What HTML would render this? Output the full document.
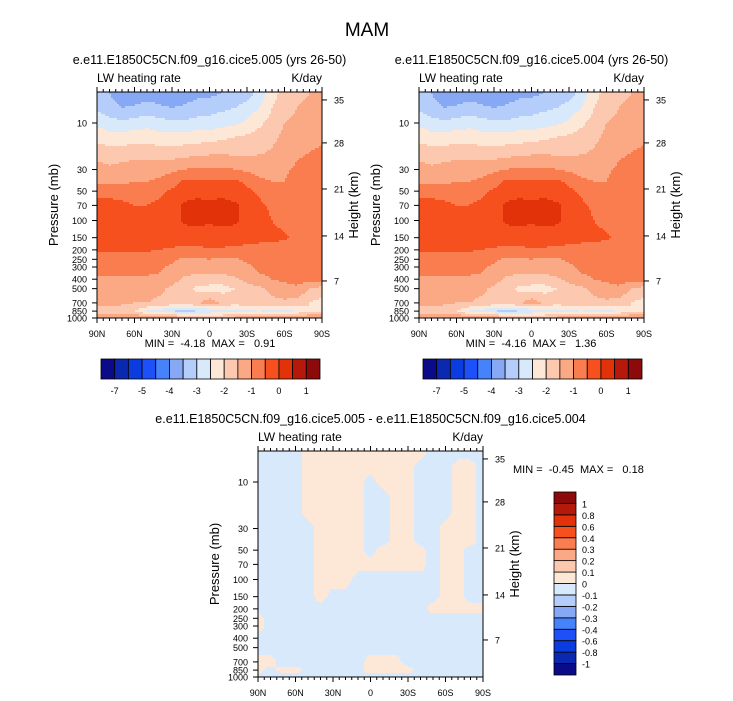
<!DOCTYPE html>
<html><head><meta charset="utf-8">
<style>
body{margin:0;background:#fff;}
svg{display:block;font-family:"Liberation Sans",Arial,sans-serif;}
text{white-space:pre;}
</style></head>
<body>
<svg id="chart" width="733" height="701" viewBox="0 0 733 701">
<rect width="733" height="701" fill="#fff"/>
<text x="367" y="36" text-anchor="middle" font-size="19">MAM</text>
</svg>
<script>
// ---- data ----
const lats = [90,80,70,60,50,40,30,20,10,0,-10,-20,-30,-40,-50,-60,-70,-80,-90];
const levels = [5,7,10,14,20,30,40,50,70,100,150,200,250,300,400,500,700,850,1000];
const latTickLabels = ["90N","60N","30N","0","30S","60S","90S"];
const latTicks = [90,60,30,0,-30,-60,-90];
const pTicks = [10,30,50,70,100,150,200,250,300,400,500,700,850,1000];
const hTicks = [35,28,21,14,7];
const hTickP = [5.8,16,47.5,144,417];
const topContours = [-7,-6,-5,-4.5,-4,-3.5,-3,-2.5,-2,-1.5,-1,-0.5,0,0.5,1];
const topLabels = ["-7","","-5","","-4","","-3","","-2","","-1","","0","","1"];
const diffContours = [-1,-0.8,-0.6,-0.4,-0.3,-0.2,-0.1,0,0.1,0.2,0.3,0.4,0.6,0.8,1];
const diffLabels = ["-1","-0.8","-0.6","-0.4","-0.3","-0.2","-0.1","0","0.1","0.2","0.3","0.4","0.6","0.8","1"];
const colors = ["#0b0b8a","#0a28b0","#0a3ce0","#1e50fa","#4682fa","#87a8f5","#b4cdfa","#d7e9fb","#fde8d7","#fcc9b0","#fba884","#fa7d50","#f5501e","#e1320a","#b4190a","#8c0a0a"];

const valsA = [
[-3.2,-3.5,-3.8,-3.9,-3.7,-3.8,-3.9,-3.8,-3.6,-3.6,-3.5,-3.4,-3.2,-2.8,-2.2,-1.8,-1.6,-1.5,-1.5],
[-3.1,-3.3,-3.5,-3.4,-3.3,-3.4,-3.5,-3.4,-3.3,-3.2,-3.1,-3,-2.8,-2.5,-2,-1.7,-1.5,-1.4,-1.4],
[-2.6,-2.8,-2.9,-2.8,-2.7,-2.8,-2.9,-2.9,-2.8,-2.8,-2.7,-2.6,-2.4,-2.1,-1.8,-1.5,-1.4,-1.3,-1.3],
[-2.2,-2.3,-2.3,-2.2,-2.2,-2.3,-2.3,-2.3,-2.2,-2.2,-2.1,-2.0,-1.9,-1.8,-1.6,-1.4,-1.2,-1.2,-1.1],
[-1.7,-1.8,-1.8,-1.7,-1.7,-1.8,-1.8,-1.7,-1.7,-1.6,-1.6,-1.6,-1.6,-1.55,-1.45,-1.3,-1.1,-1.0,-0.9],
[-1.3,-1.4,-1.3,-1.2,-1.2,-1.2,-1.1,-1.0,-0.9,-0.9,-0.9,-1.0,-1.1,-1.2,-1.2,-1.1,-0.9,-0.8,-0.8],
[-1.1,-1.1,-1.1,-1.0,-1.0,-0.9,-0.7,-0.4,-0.4,-0.4,-0.4,-0.4,-0.6,-0.9,-1.0,-1.0,-0.8,-0.7,-0.7],
[-0.6,-0.6,-0.7,-0.7,-0.7,-0.6,-0.4,-0.3,-0.2,-0.2,-0.2,-0.3,-0.4,-0.6,-0.8,-0.8,-0.7,-0.6,-0.6],
[-0.4,-0.4,-0.4,-0.5,-0.5,-0.4,-0.2,0.1,0.2,0.1,0.2,0.1,-0.2,-0.4,-0.6,-0.7,-0.6,-0.6,-0.6],
[-0.3,-0.3,-0.35,-0.4,-0.4,-0.3,-0.2,0.1,0.15,0.05,0.15,0.1,-0.2,-0.3,-0.5,-0.6,-0.6,-0.6,-0.6],
[-0.3,-0.3,-0.3,-0.3,-0.3,-0.3,-0.3,-0.3,-0.3,-0.2,-0.3,-0.3,-0.3,-0.35,-0.4,-0.45,-0.6,-0.6,-0.6],
[-0.4,-0.4,-0.4,-0.4,-0.45,-0.5,-0.55,-0.6,-0.6,-0.55,-0.55,-0.6,-0.65,-0.7,-0.7,-0.7,-0.7,-0.7,-0.7],
[-0.7,-0.7,-0.7,-0.7,-0.75,-0.8,-0.9,-1.1,-1.1,-1.0,-1.1,-1.1,-0.9,-0.8,-0.8,-0.7,-0.7,-0.7,-0.7],
[-0.8,-0.8,-0.8,-0.8,-0.8,-0.9,-1.1,-1.2,-1.2,-1.2,-1.2,-1.2,-1.1,-0.9,-0.9,-0.8,-0.8,-0.8,-0.8],
[-1.1,-1.1,-1.1,-1.1,-1.1,-1.1,-1.3,-1.6,-1.7,-1.7,-1.7,-1.6,-1.3,-1.1,-1.0,-0.9,-0.8,-0.8,-0.8],
[-1.2,-1.2,-1.3,-1.3,-1.3,-1.4,-1.6,-1.8,-2.1,-2.2,-2.2,-2.0,-1.8,-1.6,-1.4,-1.2,-1.1,-1.5,-1.7],
[-1.4,-1.4,-1.4,-1.5,-1.5,-1.6,-1.7,-1.8,-1.6,-1.2,-1.6,-1.8,-1.7,-1.6,-1.6,-1.6,-1.7,-2.0,-2.2],
[-1.7,-1.7,-1.8,-2.0,-2.5,-2.7,-3.0,-3.1,-3.0,-2.9,-2.8,-2.7,-2.6,-2.5,-2.6,-2.7,-2.4,-2.0,-2.0],
[-1.1,-1.0,-1.0,-1.0,-1.0,-1.0,-1.1,-1.4,-1.5,-1.5,-1.4,-1.3,-1.2,-1.2,-1.2,-1.3,-1.1,-1.0,-1.0]];

const valsB = [
[-3.2,-3.5,-3.8,-3.9,-3.7,-3.8,-3.9,-3.8,-3.6,-3.6,-3.5,-3.4,-3.2,-2.8,-2.2,-1.8,-1.6,-1.5,-1.5],
[-3.1,-3.3,-3.5,-3.4,-3.3,-3.4,-3.5,-3.4,-3.3,-3.2,-3.1,-3,-2.8,-2.5,-2,-1.7,-1.5,-1.4,-1.4],
[-2.6,-2.8,-2.9,-2.8,-2.7,-2.8,-2.9,-2.9,-2.8,-2.8,-2.7,-2.6,-2.4,-2.1,-1.8,-1.5,-1.4,-1.3,-1.3],
[-2.2,-2.3,-2.3,-2.2,-2.2,-2.3,-2.3,-2.3,-2.2,-2.2,-2.1,-2.0,-1.9,-1.8,-1.6,-1.4,-1.2,-1.2,-1.1],
[-1.7,-1.8,-1.8,-1.7,-1.7,-1.8,-1.8,-1.7,-1.7,-1.6,-1.6,-1.6,-1.6,-1.55,-1.45,-1.3,-1.1,-1.0,-0.9],
[-1.3,-1.4,-1.3,-1.2,-1.2,-1.2,-1.1,-1.0,-0.9,-0.9,-0.9,-1.0,-1.1,-1.2,-1.2,-1.1,-0.9,-0.8,-0.8],
[-1.1,-1.1,-1.1,-1.0,-1.0,-0.9,-0.7,-0.4,-0.4,-0.4,-0.4,-0.4,-0.6,-0.9,-1.0,-1.0,-0.8,-0.7,-0.7],
[-0.6,-0.6,-0.7,-0.7,-0.7,-0.6,-0.4,-0.3,-0.2,-0.2,-0.2,-0.3,-0.4,-0.6,-0.8,-0.8,-0.7,-0.6,-0.6],
[-0.4,-0.4,-0.4,-0.5,-0.5,-0.4,-0.2,0.1,0.2,0.1,0.2,0.1,-0.2,-0.4,-0.6,-0.7,-0.6,-0.6,-0.6],
[-0.3,-0.3,-0.35,-0.4,-0.4,-0.3,-0.2,0.1,0.15,0.05,0.15,0.1,-0.2,-0.3,-0.5,-0.6,-0.6,-0.6,-0.6],
[-0.3,-0.3,-0.3,-0.3,-0.3,-0.3,-0.3,-0.3,-0.3,-0.2,-0.3,-0.3,-0.3,-0.35,-0.4,-0.45,-0.6,-0.6,-0.6],
[-0.4,-0.4,-0.4,-0.4,-0.45,-0.5,-0.55,-0.6,-0.6,-0.55,-0.55,-0.6,-0.65,-0.7,-0.7,-0.7,-0.7,-0.7,-0.7],
[-0.7,-0.7,-0.7,-0.7,-0.75,-0.8,-0.9,-1.1,-1.1,-1.0,-1.1,-1.1,-0.9,-0.8,-0.8,-0.7,-0.7,-0.7,-0.7],
[-0.8,-0.8,-0.8,-0.8,-0.8,-0.9,-1.1,-1.2,-1.2,-1.2,-1.2,-1.2,-1.1,-0.9,-0.9,-0.8,-0.8,-0.8,-0.8],
[-1.1,-1.1,-1.1,-1.1,-1.1,-1.1,-1.3,-1.6,-1.7,-1.7,-1.7,-1.6,-1.3,-1.1,-1.0,-0.9,-0.8,-0.8,-0.8],
[-1.2,-1.2,-1.3,-1.3,-1.3,-1.4,-1.6,-1.8,-2.1,-2.2,-2.2,-2.0,-1.8,-1.6,-1.4,-1.2,-1.1,-1.5,-1.7],
[-1.4,-1.4,-1.4,-1.5,-1.5,-1.6,-1.7,-1.8,-1.6,-1.2,-1.6,-1.8,-1.7,-1.6,-1.6,-1.6,-1.7,-2.0,-2.2],
[-1.7,-1.7,-1.8,-2.0,-2.5,-2.7,-3.0,-3.1,-3.0,-2.9,-2.8,-2.7,-2.6,-2.5,-2.6,-2.7,-2.4,-2.0,-2.0],
[-1.1,-1.0,-1.0,-1.0,-1.0,-1.0,-1.1,-1.4,-1.5,-1.5,-1.4,-1.3,-1.2,-1.2,-1.2,-1.3,-1.1,-1.0,-1.0]];

const valsDiff = [
[-.05,-.05,-.05,-.05,.05,.05,.05,.05,.05,.05,.05,.05,.05,.05,-.05,-.05,-.05,-.05,-.05],
[-.05,-.05,-.05,-.05,.05,.05,.05,.05,.05,.05,.05,.05,.05,-.05,-.05,-.05,.05,.05,-.05],
[-.05,-.05,-.05,-.05,.05,.05,.05,.05,.05,-.05,.05,.05,.05,-.05,-.05,-.05,.05,.05,-.05],
[-.05,-.05,-.05,-.05,.05,.05,.05,.05,.05,-.05,-.05,.05,.05,-.05,-.05,-.05,.05,.05,-.05],
[-.05,-.05,-.05,-.05,.05,.05,.05,.05,.05,-.05,-.05,.05,.05,-.05,-.05,-.05,.05,.05,-.05],
[-.05,-.05,-.05,-.05,-.05,.05,.05,.05,.05,-.05,-.05,.05,.05,-.05,-.05,.05,.05,.05,-.05],
[-.05,-.05,-.05,-.05,-.05,.05,.05,.05,.05,-.05,-.05,.05,.05,-.05,-.05,.05,.05,.05,-.05],
[-.05,-.05,-.05,-.05,-.05,.05,.05,.05,.05,-.05,.05,.05,.05,.05,-.05,.05,.05,-.05,-.05],
[-.05,-.05,-.05,-.05,-.05,.05,.05,.05,.05,.05,.05,.05,.05,.05,-.05,.05,.05,-.05,-.05],
[-.05,-.05,-.05,-.05,-.05,.05,.05,.05,-.05,-.05,-.05,-.05,-.05,-.05,-.05,.05,.05,-.05,-.05],
[-.05,-.05,-.05,-.05,-.05,.05,-.05,-.05,-.05,-.05,-.05,-.05,-.05,-.05,-.05,.05,.05,-.05,-.05],
[-.05,-.05,-.05,-.05,-.05,-.05,-.05,-.05,-.05,-.05,-.05,-.05,-.05,-.05,.05,.05,.05,.05,.05],
[.05,-.05,-.05,-.05,-.05,-.05,-.05,-.05,-.05,-.05,-.05,-.05,-.05,-.05,-.05,-.05,-.05,-.05,-.05],
[.05,-.05,-.05,-.05,-.05,-.05,-.05,-.05,-.05,-.05,-.05,-.05,-.05,-.05,-.05,-.05,-.05,-.05,-.05],
[-.05,-.05,-.05,-.05,-.05,-.05,-.05,-.05,-.05,-.05,-.05,-.05,-.05,-.05,-.05,-.05,-.05,-.05,-.05],
[-.05,-.05,-.05,-.05,-.05,-.05,-.05,-.05,-.05,-.05,-.05,-.05,-.05,-.05,-.05,-.05,-.05,-.05,-.05],
[.05,.05,-.05,-.05,-.05,-.05,-.05,-.05,-.05,.05,.05,.05,-.05,-.05,-.05,-.05,-.05,-.05,-.05],
[.05,-.05,.05,.05,-.05,-.05,-.05,-.05,-.05,.05,.05,.05,.05,-.05,-.05,-.05,-.05,-.05,-.05],
[-.05,-.05,-.05,-.05,-.05,-.05,-.05,-.05,-.05,-.05,-.05,-.05,-.05,-.05,-.05,-.05,-.05,-.05,-.05]];

const svg = document.getElementById('chart');
const NS = 'http://www.w3.org/2000/svg';
function mk(tag, attrs, parent){ const e=document.createElementNS(NS,tag); for(const k in attrs) e.setAttribute(k,attrs[k]); (parent||svg).appendChild(e); return e; }
function txt(x,y,s,size,anchor,parent){ const t=mk('text',{x:x,y:y,'font-size':size,'text-anchor':anchor||'start'},parent); t.textContent=s; return t; }
function colorFor(v, cont){ let i=0; while(i<cont.length && v>=cont[i]) i++; return colors[i]; }
function interp(vals, lat, lp){
  let fi = (90-lat)/10; fi=Math.max(0,Math.min(lats.length-1.0001,fi));
  const i0=Math.floor(fi), ti=fi-i0;
  const lps = levels.map(Math.log10);
  let j0=0; if(lp<=lps[0]) {j0=0;} else { while(j0<lps.length-2 && lp>lps[j0+1]) j0++; }
  let tj=(lp-lps[j0])/(lps[j0+1]-lps[j0]); tj=Math.max(0,Math.min(1,tj));
  const a=vals[j0][i0],b=vals[j0][i0+1],c=vals[j0+1][i0],d=vals[j0+1][i0+1];
  return (a*(1-ti)+b*ti)*(1-tj)+(c*(1-ti)+d*ti)*tj;
}

function panel(name, ox, oy, vals, cont, titleStr){
  const W=225, H=226, PX=97.5;
  const g = mk('g',{});
  
  
  const xOf = lat => ox + (90-lat)/180*W;
  const yOf = p => oy + H - (3-Math.log10(p))*PX;
  const field = mk('g',{},g);
  
  
  const step=2;
  for(let y=0;y<H;y+=step){
    const lp = 3 - (H-(y+step/2))/PX;
    let runStart=0, runCol=null;
    for(let x=0;x<W+step;x+=step){
      let col=null;
      if(x<W){ const lat=90-Math.min(x+step/2,W)/W*180; col=colorFor(interp(vals,lat,lp),cont); }
      if(col!==runCol){
        if(runCol!==null){
          const r=mk('rect',{x:ox+runStart,y:oy+y,width:Math.min(x,W)-runStart+0.4,height:Math.min(step,H-y)+0.4,fill:runCol},field);
          
          
        }
        runStart=x; runCol=col;
      }
    }
  }
  const frame=mk('rect',{x:ox,y:oy,width:W,height:H,fill:'none',stroke:'#000','stroke-width':1},g);
  
  
  latTicks.forEach((lat,k)=>{
    const x=xOf(lat);
    mk('line',{x1:x,y1:oy+H,x2:x,y2:oy+H+5,stroke:'#000'},g);
    mk('line',{x1:x,y1:oy,x2:x,y2:oy-5,stroke:'#000'},g);
    const t=txt(x,oy+H+19,latTickLabels[k],9,'middle',g);
    
    
  });
  for(let lat=85;lat>-90;lat-=5){ if(lat%30===0) continue; const x=xOf(lat);
    mk('line',{x1:x,y1:oy+H,x2:x,y2:oy+H+3,stroke:'#000'},g); mk('line',{x1:x,y1:oy,x2:x,y2:oy-3,stroke:'#000'},g);}
  pTicks.forEach(p=>{
    const y=yOf(p);
    mk('line',{x1:ox,y1:y,x2:ox-5,y2:y,stroke:'#000'},g);
    const t=txt(ox-10,y+3.5,String(p),9,'end',g);
    
    
  });
  hTicks.forEach((h,k)=>{
    const y=yOf(hTickP[k]);
    mk('line',{x1:ox+W,y1:y,x2:ox+W+5,y2:y,stroke:'#000'},g);
    const t=txt(ox+W+12,y+3.5,String(h),9,'start',g);
    
    
  });
  const t1=txt(ox,oy-10,'LW heating rate',12,'start',g);
   
  const t2=txt(ox+W,oy-10,'K/day',12,'end',g);
   
  const t3=txt(ox+W/2,oy-28,titleStr,12.5,'middle',g);
   
  const ya=txt(0,0,'Pressure (mb)',13,'middle',g);
  ya.setAttribute('transform',`translate(${ox-39},${oy+H/2}) rotate(-90)`);
   
  const yb=txt(0,0,'Height (km)',13,'middle',g);
  yb.setAttribute('transform',`translate(${ox+W+36},${oy+H/2}) rotate(-90)`);
   
  return g;
}

function hColorbar(name,x0,y0,w,h){
  const g=mk('g',{});  
  const bw=w/colors.length;
  colors.forEach((c,i)=>{ const r=mk('rect',{x:x0+i*bw,y:y0,width:bw,height:h,fill:c,stroke:'#000','stroke-width':0.8},g);
      });
  topLabels.forEach((s,k)=>{ if(!s) return; const t=txt(x0+(k+1)*bw,y0+h+15,s,9,'middle',g);
      });
}
function vColorbar(name,x0,y0,w,h){
  const g=mk('g',{});  
  const bh=h/colors.length;
  colors.forEach((c,i)=>{ const r=mk('rect',{x:x0,y:y0+h-(i+1)*bh,width:w,height:bh,fill:c,stroke:'#000','stroke-width':0.8},g);
      });
  diffLabels.forEach((s,k)=>{ const t=txt(x0+w+6,y0+h-(k+1)*bh+4,s,9,'start',g);
      });
}

panel('panel-005',97,92,valsA,topContours,'e.e11.E1850C5CN.f09_g16.cice5.005 (yrs 26-50)');
panel('panel-004',419,92,valsB,topContours,'e.e11.E1850C5CN.f09_g16.cice5.004 (yrs 26-50)');
panel('panel-diff',258,451,valsDiff,diffContours,'e.e11.E1850C5CN.f09_g16.cice5.005 - e.e11.E1850C5CN.f09_g16.cice5.004');
hColorbar('colorbar-005',101,359,219,20);
hColorbar('colorbar-004',423,359,219,20);
vColorbar('colorbar-diff',554,492,22,183);
let m;
m=txt(210,347,'MIN =  -4.18  MAX =   0.91',11,'middle');  
m=txt(531,347,'MIN =  -4.16  MAX =   1.36',11,'middle');  
m=txt(513,473,'MIN =  -0.45  MAX =   0.18',11,'start');  
</script>
</body></html>
